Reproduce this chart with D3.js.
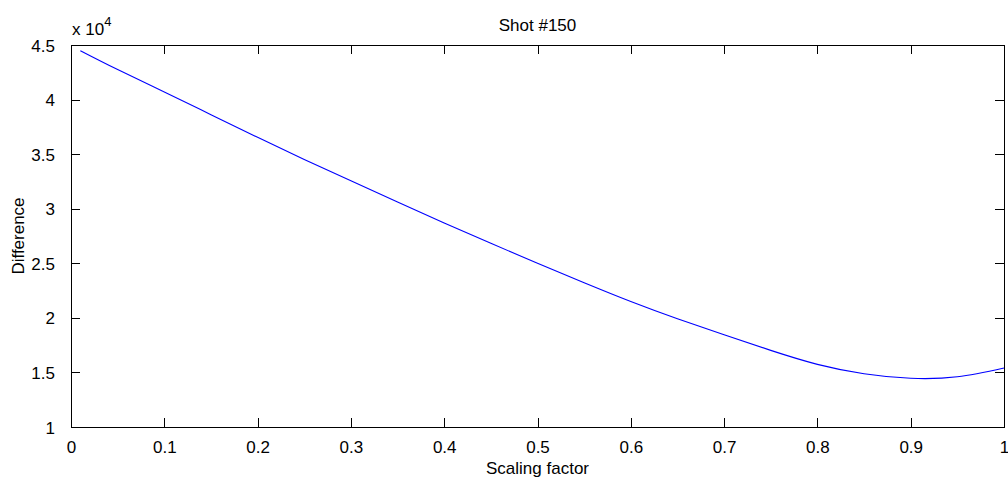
<!DOCTYPE html>
<html>
<head>
<meta charset="utf-8">
<script src="https://cdn.jsdelivr.net/npm/d3@7"></script>
<style>
  html, body { margin: 0; padding: 0; background: #fff; }
  svg { display: block; }
  text { font-family: "Liberation Sans", Arial, sans-serif; fill: #000; }
</style>
</head>
<body>
<script>
// Scaling factor sampled along the sweep
const scaling = [0.01, 0.05, 0.10, 0.15, 0.20, 0.25, 0.30, 0.35, 0.40, 0.45, 0.50,
                 0.55, 0.60, 0.65, 0.70, 0.75, 0.80, 0.85, 0.90, 0.95, 1.00];
// Difference for shot #150 at each scaling factor
const difference = [44480, 42750, 40700, 38620, 36540, 34520, 32560, 30620, 28700, 26830, 25000,
                    23220, 21500, 19920, 18450, 17020, 15740, 14880, 14460, 14600, 15410];
const xTicks = [0, 0.1, 0.2, 0.3, 0.4, 0.5, 0.6, 0.7, 0.8, 0.9, 1];
const yTicks = [10000, 15000, 20000, 25000, 30000, 35000, 40000, 45000];
const yTickLabels = ["1", "1.5", "2", "2.5", "3", "3.5", "4", "4.5"];

const W = 1008, H = 482;
const m = { left: 71, right: 1004, top: 45, bottom: 427 };

const svg = d3.select("body").append("svg").attr("width", W).attr("height", H);

const x = d3.scaleLinear().domain([0, 1]).range([m.left, m.right]);
const y = d3.scaleLinear().domain([10000, 45000]).range([m.bottom, m.top]);

const fs = 17;
const tickLen = 9;

// Bottom axis with inward ticks
const gx = svg.append("g").attr("transform", `translate(0,${m.bottom})`)
  .call(d3.axisBottom(x).tickValues(xTicks).tickSize(-tickLen).tickPadding(14)
    .tickFormat(d => d3.format("")(+d.toFixed(1))));
// Top axis (ticks only)
const gxt = svg.append("g").attr("transform", `translate(0,${m.top})`)
  .call(d3.axisTop(x).tickValues(xTicks).tickSize(-tickLen).tickFormat(""));
// Left axis
const gy = svg.append("g").attr("transform", `translate(${m.left},0)`)
  .call(d3.axisLeft(y).tickValues(yTicks).tickSize(-tickLen).tickPadding(16)
    .tickFormat((d, i) => yTickLabels[i]));
// Right axis (ticks only)
const gyr = svg.append("g").attr("transform", `translate(${m.right},0)`)
  .call(d3.axisRight(y).tickValues(yTicks).tickSize(-tickLen).tickFormat(""));

[gx, gxt, gy, gyr].forEach(g => {
  g.selectAll("path.domain").attr("stroke", "#000").attr("shape-rendering", "crispEdges");
  g.selectAll(".tick line").attr("stroke", "#000").attr("shape-rendering", "crispEdges");
  g.selectAll("text").attr("font-size", fs).attr("font-family", "Liberation Sans, Arial, sans-serif").attr("fill", "#000");
});
gx.selectAll(".tick text").attr("dy", "0.71em");
gy.selectAll(".tick text").attr("dy", "0.36em");

// Curve
const line = d3.line()
  .x((d, i) => x(scaling[i]))
  .y(d => y(d))
  .curve(d3.curveNatural);
svg.append("path")
  .datum(difference)
  .attr("fill", "none")
  .attr("stroke", "#0000ff")
  .attr("stroke-width", 1.1)
  .attr("d", line);

// Exponent label
const ex = svg.append("text").attr("x", 72).attr("y", 35).attr("font-size", fs);
ex.append("tspan").text("x 10");
ex.append("tspan").attr("font-size", 13).attr("dy", -9).text("4");

// Title
svg.append("text").attr("x", (m.left + m.right) / 2).attr("y", 31)
  .attr("text-anchor", "middle").attr("font-size", fs).text("Shot #150");

// Axis labels
svg.append("text").attr("x", (m.left + m.right) / 2).attr("y", 474)
  .attr("text-anchor", "middle").attr("font-size", fs).text("Scaling factor");
svg.append("text").attr("transform", `translate(24,${(m.top + m.bottom) / 2}) rotate(-90)`)
  .attr("text-anchor", "middle").attr("font-size", fs).text("Difference");
</script>
</body>
</html>
